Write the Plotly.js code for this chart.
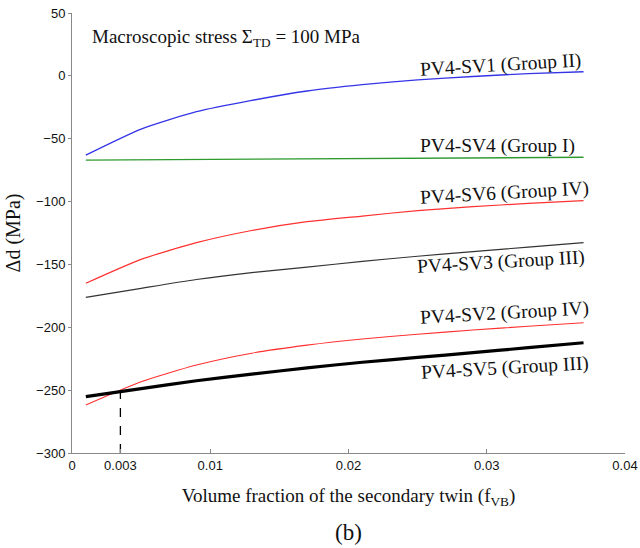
<!DOCTYPE html>
<html><head><meta charset="utf-8">
<script src="https://cdn.plot.ly/plotly-3.0.1.min.js"></script>
<style>html,body{margin:0;padding:0;background:#fff}#chart{width:640px;height:548px}</style>
</head><body><div id="chart"></div>
<script>
// volume fraction of the secondary twin
const fVB = [0.001, 0.005, 0.009, 0.013, 0.017, 0.021, 0.025, 0.029, 0.033, 0.037];
const sv1 = [-63, -42.3, -28.5, -19.5, -12, -7, -3.2, -0.5, 1.8, 3.3];
const sv4 = [-67, -66.8, -66.6, -66.4, -66.2, -66, -65.7, -65.4, -65.1, -64.8];
const sv6 = [-165, -146, -132.7, -123, -116, -111.5, -107.2, -104, -101.5, -99.3];
const sv3 = [-176.2, -169, -162, -156.5, -152.2, -147.5, -143.5, -139.8, -136.2, -132.7];
const sv2 = [-261.8, -243.3, -230, -220.6, -214.2, -209.3, -205.5, -202.2, -199.2, -196.4];
const sv5 = [-255.2, -248.8, -242.5, -237.3, -232.3, -227.8, -224, -220.2, -216.2, -212.3];
const dashX = [0.0035, 0.0035];
const dashY = [-300, -251];
const xTickVals = [0, 0.0035, 0.01, 0.02, 0.03, 0.04];
const xTickText = ['0', '0.003', '0.01', '0.02', '0.03', '0.04'];
const yTickVals = [50, 0, -50, -100, -150, -200, -250, -300];

const serif = 'Liberation Serif, Times New Roman, serif';
const sans = 'Liberation Sans, Arial, sans-serif';

const traces = [
  {x: fVB, y: sv1, mode: 'lines', line: {color: '#3535e8', width: 1.4, shape: 'spline', smoothing: 0.6}},
  {x: fVB, y: sv4, mode: 'lines', line: {color: '#2e9a2e', width: 1.4}},
  {x: fVB, y: sv6, mode: 'lines', line: {color: '#ff3030', width: 1.2, shape: 'spline', smoothing: 0.6}},
  {x: fVB, y: sv3, mode: 'lines', line: {color: '#333333', width: 1.2, shape: 'spline', smoothing: 0.6}},
  {x: fVB, y: sv2, mode: 'lines', line: {color: '#ff3030', width: 1.1, shape: 'spline', smoothing: 0.6}},
  {x: fVB, y: sv5, mode: 'lines', line: {color: '#000000', width: 3.2, shape: 'spline', smoothing: 0.6}},
  {x: dashX, y: dashY, mode: 'lines', line: {color: '#000', width: 1.3, dash: 'dash'}}
];

const ann = (x, y, text, angle) => ({x, y, xref: 'x', yref: 'y', text, showarrow: false,
  xanchor: 'center', yanchor: 'middle', textangle: angle, font: {family: serif, size: 19.5, color: '#111'}});

const layout = {
  width: 640, height: 548,
  margin: {l: 72, r: 15, t: 13, b: 95},
  paper_bgcolor: '#fff', plot_bgcolor: '#fff',
  showlegend: false,
  xaxis: {range: [0, 0.04], tickvals: xTickVals, ticktext: xTickText,
    ticks: 'inside', ticklen: 4, tickcolor: '#888', showline: true, linecolor: '#888', linewidth: 1,
    showgrid: false, zeroline: false, tickfont: {family: sans, size: 13, color: '#111'},
    title: {text: 'Volume fraction of the secondary twin (f<sub>VB</sub>)', font: {family: serif, size: 19, color: '#111'}, standoff: 17}},
  yaxis: {range: [-300, 50], tickvals: yTickVals, ticks: 'outside', ticklen: 3, tickcolor: '#888',
    showline: true, linecolor: '#888', linewidth: 1, showgrid: false, zeroline: false,
    tickfont: {family: sans, size: 13, color: '#111'},
    title: {text: '\u0394d (MPa)', font: {family: serif, size: 20, color: '#111'}, standoff: 10}},
  xaxis2: {overlaying: 'x', side: 'top', range: [0, 0.04], tickvals: [0.01, 0.02, 0.03],
    ticks: 'inside', ticklen: 4, tickcolor: '#888', showline: true, linecolor: '#888',
    showticklabels: false, showgrid: false, zeroline: false},
  yaxis2: {overlaying: 'y', side: 'right', range: [-300, 50], tickvals: yTickVals,
    ticks: 'inside', ticklen: 5, tickcolor: '#888', showline: true, linecolor: '#888',
    showticklabels: false, showgrid: false, zeroline: false},
  annotations: [
    {x: 0.0112, y: 30, xref: 'x', yref: 'y', showarrow: false, xanchor: 'center', yanchor: 'middle',
     text: 'Macroscopic stress \u03a3<sub>TD</sub> = 100 MPa', font: {family: serif, size: 19, color: '#111'}},
    ann(0.0310, 8.6, 'PV4-SV1 (Group II)', -3.3),
    ann(0.0308, -55.8, 'PV4-SV4 (Group I)', 0),
    ann(0.0313, -93.2, 'PV4-SV6 (Group IV)', -3.3),
    ann(0.0310, -148.1, 'PV4-SV3 (Group III)', -3.3),
    ann(0.0313, -188.7, 'PV4-SV2 (Group IV)', -3.3),
    ann(0.0313, -232.4, 'PV4-SV5 (Group III)', -3.3),
    {x: 0.5, y: -0.18, xref: 'paper', yref: 'paper', showarrow: false, xanchor: 'center', yanchor: 'middle',
     text: '(b)', font: {family: serif, size: 23, color: '#111'}}
  ]
};

Plotly.newPlot('chart', traces, layout, {displayModeBar: false, staticPlot: true});
</script>
</body></html>
